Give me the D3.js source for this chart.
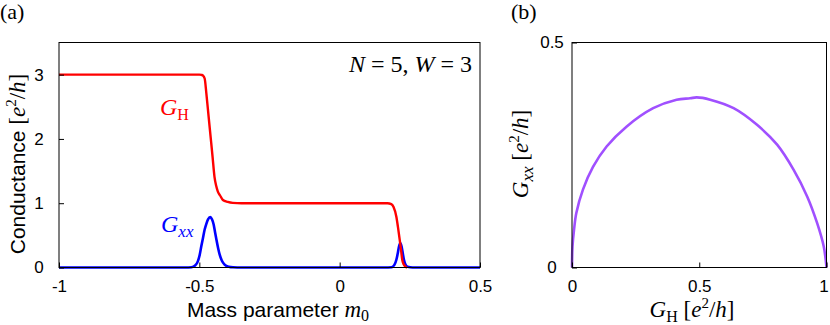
<!DOCTYPE html>
<html>
<head>
<meta charset="utf-8">
<script src="https://cdn.jsdelivr.net/npm/d3@7"></script>
<style>
  body { margin: 0; background: #fff; }
  svg { display: block; }
</style>
</head>
<body>
<div id="root"></div>
<script>
// panel (a): Hall conductance vs mass parameter
const massH = [-1, -0.9, -0.8, -0.7, -0.6, -0.53, -0.51, -0.5, -0.492, -0.487, -0.481, -0.475, -0.467, -0.46, -0.453, -0.446, -0.44, -0.434, -0.426, -0.416, -0.399, -0.381, -0.35, -0.3, -0.2, -0.1, 0, 0.1, 0.15, 0.17, 0.184, 0.192, 0.202, 0.208, 0.214, 0.219, 0.223, 0.228, 0.235, 0.24];
const gHall = [3, 3, 3, 3, 3, 3, 3, 3, 2.995, 2.985, 2.94, 2.71, 2.35, 2.04, 1.73, 1.41, 1.27, 1.18, 1.12, 1.05, 1.02, 1.005, 1, 1, 1, 1, 1, 1, 1, 1, 0.985, 0.94, 0.79, 0.62, 0.43, 0.26, 0.12, 0.05, 0.01, 0];

// panel (a): longitudinal conductance vs mass parameter
const massXX = [-1, -0.6, -0.55, -0.528, -0.515, -0.505, -0.499, -0.493, -0.487, -0.481, -0.475, -0.469, -0.461, -0.455, -0.449, -0.444, -0.439, -0.433, -0.4275, -0.42, -0.41, -0.395, -0.38, -0.35, 0, 0.16, 0.185, 0.195, 0.202, 0.207, 0.211, 0.216, 0.221, 0.225, 0.229, 0.234, 0.242, 0.26, 0.5];
const gXX = [0, 0, 0, 0.005, 0.03, 0.1, 0.19, 0.33, 0.46, 0.59, 0.68, 0.75, 0.785, 0.75, 0.67, 0.55, 0.43, 0.3, 0.2, 0.11, 0.046, 0.012, 0.003, 0, 0, 0, 0.005, 0.04, 0.12, 0.22, 0.32, 0.38, 0.32, 0.22, 0.12, 0.05, 0.01, 0, 0];

// panel (b): Gxx vs GH
const gHb = [0, 0.002, 0.008, 0.017, 0.043, 0.083, 0.136, 0.214, 0.319, 0.411, 0.464, 0.49, 0.543, 0.635, 0.727, 0.806, 0.871, 0.924, 0.963, 0.989, 1];
const gXXb = [0, 0.047, 0.084, 0.121, 0.173, 0.224, 0.269, 0.313, 0.354, 0.373, 0.376, 0.378, 0.373, 0.354, 0.317, 0.273, 0.217, 0.158, 0.099, 0.047, 0];

const xTicksA = [-1, -0.5, 0, 0.5];
const yTicksA = [0, 1, 2, 3];
const xTicksB = [0, 0.5, 1];
const yTicksB = [0, 0.5];

const SANS = "'Liberation Sans', Arial, Helvetica, sans-serif";
const SERIF = "'Liberation Serif', 'Times New Roman', serif";

const width = 830;
const height = 325;

const svg = d3
  .select("#root")
  .append("svg")
  .attr("width", width)
  .attr("height", height);

// add text made of tspans
function richText(g, parts) {
  parts.forEach((p) => {
    g.append("tspan")
      .text(p.t)
      .attr("font-family", p.serif ? SERIF : SANS)
      .attr("font-style", p.it ? "italic" : "normal")
      .attr("font-size", p.size)
      .attr("dy", p.dy || 0);
  });
  return g;
}

function frame(x, y) {
  const [x0, x1] = x.range();
  const [y0, y1] = y.range();
  svg
    .append("rect")
    .attr("x", x0)
    .attr("y", y1)
    .attr("width", x1 - x0)
    .attr("height", y0 - y1)
    .attr("fill", "none")
    .attr("stroke", "#000")
    .attr("stroke-width", 1);
}

function axes(x, y, xt, yt) {
  const gx = svg
    .append("g")
    .attr("transform", `translate(0,${y.range()[0]})`)
    .call(
      d3.axisBottom(x).tickValues(xt).tickSize(-5).tickPadding(12).tickFormat((d) => String(d))
    );
  const gy = svg
    .append("g")
    .attr("transform", `translate(${x.range()[0]},0)`)
    .call(
      d3.axisLeft(y).tickValues(yt).tickSize(-5).tickPadding(20).tickFormat((d) => String(d))
    );
  [gx, gy].forEach((g) => {
    g.select(".domain").remove();
    g.selectAll("line").attr("stroke", "#000");
    g.selectAll("text")
      .attr("font-family", SANS)
      .attr("font-size", 17)
      .attr("fill", "#000");
  });
  gy.selectAll("text").attr("text-anchor", "middle");
  return gx;
}

// ---------- panel (a) ----------
const xA = d3.scaleLinear().domain([-1, 0.5]).range([59, 480]);
const yA = d3.scaleLinear().domain([0, 3.5]).range([267.5, 42.5]);

const lineA = d3
  .line()
  .x((d) => xA(d[0]))
  .y((d) => yA(d[1]))
  .curve(d3.curveMonotoneX);

svg
  .append("path")
  .datum(d3.zip(massXX, gXX))
  .attr("d", lineA)
  .attr("fill", "none")
  .attr("stroke", "#0000ff")
  .attr("stroke-width", 2.6);

svg
  .append("path")
  .datum(d3.zip(massH, gHall))
  .attr("d", lineA)
  .attr("fill", "none")
  .attr("stroke", "#ff0000")
  .attr("stroke-width", 2.4);

frame(xA, yA);
axes(xA, yA, xTicksA, yTicksA);

richText(
  svg.append("text").attr("x", xA.range()[0] + 219).attr("y", 317).attr("text-anchor", "middle"),
  [
    { t: "Mass parameter ", size: 21 },
    { t: "m", serif: true, it: true, size: 23 },
    { t: "0", serif: true, size: 16, dy: 4 },
  ]
);

richText(
  svg
    .append("text")
    .attr("transform", "translate(25,164) rotate(-90)")
    .attr("text-anchor", "middle"),
  [
    { t: "Conductance ", size: 21 },
    { t: "[", serif: true, size: 23 },
    { t: "e", serif: true, it: true, size: 23 },
    { t: "2", serif: true, size: 15, dy: -9 },
    { t: "/", serif: true, size: 23, dy: 9 },
    { t: "h", serif: true, it: true, size: 23 },
    { t: "]", serif: true, size: 23 },
  ]
);

richText(
  svg.append("text").attr("x", 472).attr("y", 72).attr("text-anchor", "end"),
  [
    { t: "N", serif: true, it: true, size: 24 },
    { t: " = 5, ", serif: true, size: 24 },
    { t: "W", serif: true, it: true, size: 24 },
    { t: " = 3", serif: true, size: 24 },
  ]
);

richText(
  svg.append("text").attr("x", 160).attr("y", 115).attr("fill", "#ff0000"),
  [
    { t: "G", serif: true, it: true, size: 24 },
    { t: "H", serif: true, size: 16, dy: 5 },
  ]
);

richText(
  svg.append("text").attr("x", 161).attr("y", 232).attr("fill", "#0000ff"),
  [
    { t: "G", serif: true, it: true, size: 24 },
    { t: "xx", serif: true, it: true, size: 17, dy: 5 },
  ]
);

svg
  .append("text")
  .attr("x", 0)
  .attr("y", 19)
  .attr("font-family", SERIF)
  .attr("font-size", 22)
  .text("(a)");

// ---------- panel (b) ----------
const xB = d3.scaleLinear().domain([0, 1]).range([572, 826.5]);
const yB = d3.scaleLinear().domain([0, 0.5]).range([267.5, 42.5]);

svg
  .append("path")
  .datum(d3.zip(gHb, gXXb))
  .attr(
    "d",
    d3
      .line()
      .x((d) => xB(d[0]))
      .y((d) => yB(d[1]))
      .curve(d3.curveCatmullRom.alpha(0.5))
  )
  .attr("fill", "none")
  .attr("stroke", "#a050ff")
  .attr("stroke-width", 2.6);

frame(xB, yB);
const gxB = axes(xB, yB, xTicksB, yTicksB);
// keep the last label inside the picture
gxB.selectAll("text").filter((d) => d === 1).attr("dx", -3);

richText(
  svg.append("text").attr("x", 692).attr("y", 317).attr("text-anchor", "middle"),
  [
    { t: "G", serif: true, it: true, size: 23 },
    { t: "H", serif: true, size: 16, dy: 5 },
    { t: " [", serif: true, size: 23, dy: -5 },
    { t: "e", serif: true, it: true, size: 23 },
    { t: "2", serif: true, size: 15, dy: -9 },
    { t: "/", serif: true, size: 23, dy: 9 },
    { t: "h", serif: true, it: true, size: 23 },
    { t: "]", serif: true, size: 23 },
  ]
);

richText(
  svg
    .append("text")
    .attr("transform", "translate(528,154) rotate(-90)")
    .attr("text-anchor", "middle"),
  [
    { t: "G", serif: true, it: true, size: 23 },
    { t: "xx", serif: true, it: true, size: 17, dy: 5 },
    { t: " [", serif: true, size: 23, dy: -5 },
    { t: "e", serif: true, it: true, size: 23 },
    { t: "2", serif: true, size: 15, dy: -9 },
    { t: "/", serif: true, size: 23, dy: 9 },
    { t: "h", serif: true, it: true, size: 23 },
    { t: "]", serif: true, size: 23 },
  ]
);

svg
  .append("text")
  .attr("x", 511)
  .attr("y", 19)
  .attr("font-family", SERIF)
  .attr("font-size", 22)
  .text("(b)");
</script>
</body>
</html>
